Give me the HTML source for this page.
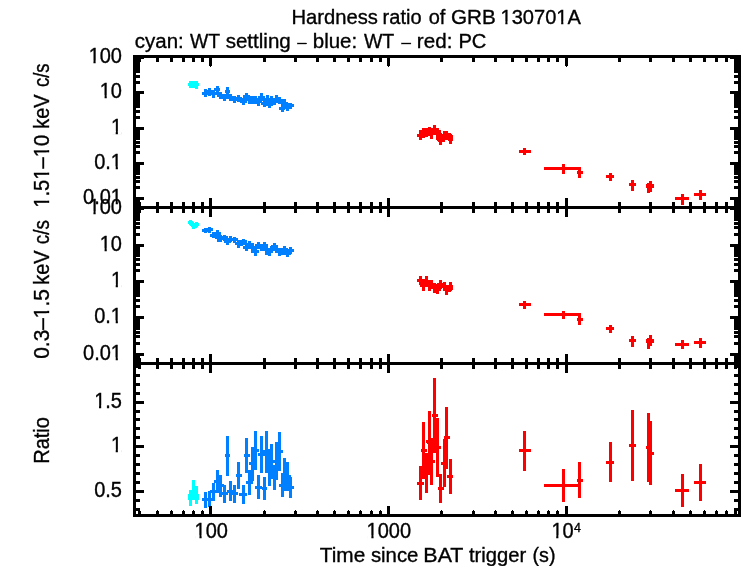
<!DOCTYPE html>
<html><head><meta charset="utf-8"><title>Hardness ratio of GRB 130701A</title>
<style>
html,body{margin:0;padding:0;background:#fff;width:742px;height:566px;overflow:hidden;}
svg{display:block;font-family:"Liberation Sans",sans-serif;}
text{fill:#000;}
</style></head><body>
<svg width="742" height="566" viewBox="0 0 742 566">
<rect width="742" height="566" fill="#fff"/>
<g shape-rendering="crispEdges">
<rect x="189" y="81" width="9" height="7" fill="#00ffff"/>
<rect x="188" y="83" width="11" height="3" fill="#00ffff"/>
<rect x="195" y="88" width="3" height="1" fill="#00ffff"/>
<rect x="204" y="89" width="3" height="8" fill="#0080ff"/>
<rect x="202" y="92" width="6" height="3" fill="#0080ff"/>
<rect x="208" y="88" width="3" height="8" fill="#0080ff"/>
<rect x="206" y="90" width="7" height="3" fill="#0080ff"/>
<rect x="212" y="90" width="3" height="8" fill="#0080ff"/>
<rect x="210" y="92" width="7" height="3" fill="#0080ff"/>
<rect x="216" y="86" width="3" height="8" fill="#0080ff"/>
<rect x="214" y="88" width="6" height="3" fill="#0080ff"/>
<rect x="219" y="92" width="3" height="7" fill="#0080ff"/>
<rect x="217" y="94" width="7" height="3" fill="#0080ff"/>
<rect x="223" y="94" width="3" height="7" fill="#0080ff"/>
<rect x="221" y="96" width="7" height="3" fill="#0080ff"/>
<rect x="226" y="87" width="3" height="9" fill="#0080ff"/>
<rect x="225" y="90" width="5" height="3" fill="#0080ff"/>
<rect x="229" y="94" width="3" height="7" fill="#0080ff"/>
<rect x="227" y="96" width="7" height="3" fill="#0080ff"/>
<rect x="233" y="96" width="3" height="7" fill="#0080ff"/>
<rect x="231" y="98" width="7" height="3" fill="#0080ff"/>
<rect x="237" y="95" width="3" height="7" fill="#0080ff"/>
<rect x="235" y="97" width="7" height="3" fill="#0080ff"/>
<rect x="242" y="98" width="3" height="7" fill="#0080ff"/>
<rect x="240" y="100" width="7" height="3" fill="#0080ff"/>
<rect x="245" y="93" width="3" height="7" fill="#0080ff"/>
<rect x="243" y="95" width="7" height="3" fill="#0080ff"/>
<rect x="248" y="96" width="3" height="8" fill="#0080ff"/>
<rect x="246" y="98" width="7" height="3" fill="#0080ff"/>
<rect x="251" y="96" width="3" height="8" fill="#0080ff"/>
<rect x="249" y="98" width="7" height="3" fill="#0080ff"/>
<rect x="254" y="96" width="3" height="8" fill="#0080ff"/>
<rect x="252" y="98" width="7" height="3" fill="#0080ff"/>
<rect x="257" y="98" width="3" height="8" fill="#0080ff"/>
<rect x="255" y="100" width="7" height="3" fill="#0080ff"/>
<rect x="260" y="93" width="3" height="8" fill="#0080ff"/>
<rect x="258" y="96" width="7" height="3" fill="#0080ff"/>
<rect x="263" y="99" width="3" height="8" fill="#0080ff"/>
<rect x="261" y="102" width="7" height="3" fill="#0080ff"/>
<rect x="266" y="95" width="3" height="9" fill="#0080ff"/>
<rect x="264" y="98" width="7" height="3" fill="#0080ff"/>
<rect x="268" y="101" width="3" height="7" fill="#0080ff"/>
<rect x="266" y="103" width="7" height="3" fill="#0080ff"/>
<rect x="270" y="96" width="3" height="7" fill="#0080ff"/>
<rect x="268" y="98" width="7" height="3" fill="#0080ff"/>
<rect x="273" y="98" width="3" height="7" fill="#0080ff"/>
<rect x="271" y="100" width="7" height="3" fill="#0080ff"/>
<rect x="275" y="95" width="3" height="8" fill="#0080ff"/>
<rect x="273" y="98" width="7" height="3" fill="#0080ff"/>
<rect x="278" y="97" width="3" height="7" fill="#0080ff"/>
<rect x="277" y="99" width="6" height="3" fill="#0080ff"/>
<rect x="281" y="105" width="3" height="7" fill="#0080ff"/>
<rect x="279" y="107" width="6" height="3" fill="#0080ff"/>
<rect x="283" y="99" width="3" height="8" fill="#0080ff"/>
<rect x="281" y="102" width="7" height="3" fill="#0080ff"/>
<rect x="286" y="103" width="3" height="8" fill="#0080ff"/>
<rect x="284" y="106" width="7" height="3" fill="#0080ff"/>
<rect x="289" y="103" width="3" height="6" fill="#0080ff"/>
<rect x="288" y="104" width="6" height="3" fill="#0080ff"/>
<rect x="189" y="220" width="3" height="1" fill="#00ffff"/>
<rect x="188" y="221" width="5" height="1" fill="#00ffff"/>
<rect x="188" y="222" width="6" height="1" fill="#00ffff"/>
<rect x="195" y="222" width="3" height="1" fill="#00ffff"/>
<rect x="188" y="223" width="11" height="1" fill="#00ffff"/>
<rect x="189" y="224" width="10" height="1" fill="#00ffff"/>
<rect x="190" y="225" width="9" height="1" fill="#00ffff"/>
<rect x="191" y="226" width="7" height="1" fill="#00ffff"/>
<rect x="192" y="227" width="5" height="1" fill="#00ffff"/>
<rect x="192" y="228" width="3" height="1" fill="#00ffff"/>
<rect x="204" y="228" width="3" height="5" fill="#0080ff"/>
<rect x="202" y="229" width="6" height="3" fill="#0080ff"/>
<rect x="208" y="227" width="3" height="6" fill="#0080ff"/>
<rect x="207" y="228" width="6" height="3" fill="#0080ff"/>
<rect x="212" y="232" width="3" height="6" fill="#0080ff"/>
<rect x="210" y="234" width="6" height="3" fill="#0080ff"/>
<rect x="216" y="230" width="3" height="6" fill="#0080ff"/>
<rect x="214" y="232" width="7" height="3" fill="#0080ff"/>
<rect x="217" y="233" width="3" height="9" fill="#0080ff"/>
<rect x="215" y="236" width="7" height="3" fill="#0080ff"/>
<rect x="219" y="235" width="3" height="7" fill="#0080ff"/>
<rect x="217" y="237" width="7" height="3" fill="#0080ff"/>
<rect x="223" y="235" width="3" height="6" fill="#0080ff"/>
<rect x="221" y="236" width="7" height="3" fill="#0080ff"/>
<rect x="226" y="238" width="3" height="7" fill="#0080ff"/>
<rect x="224" y="240" width="7" height="3" fill="#0080ff"/>
<rect x="229" y="236" width="3" height="6" fill="#0080ff"/>
<rect x="227" y="238" width="7" height="3" fill="#0080ff"/>
<rect x="233" y="237" width="3" height="6" fill="#0080ff"/>
<rect x="232" y="238" width="6" height="3" fill="#0080ff"/>
<rect x="237" y="240" width="3" height="8" fill="#0080ff"/>
<rect x="235" y="242" width="7" height="3" fill="#0080ff"/>
<rect x="240" y="240" width="3" height="6" fill="#0080ff"/>
<rect x="238" y="242" width="7" height="3" fill="#0080ff"/>
<rect x="242" y="239" width="3" height="6" fill="#0080ff"/>
<rect x="240" y="240" width="7" height="3" fill="#0080ff"/>
<rect x="245" y="243" width="3" height="8" fill="#0080ff"/>
<rect x="243" y="246" width="7" height="3" fill="#0080ff"/>
<rect x="248" y="241" width="3" height="8" fill="#0080ff"/>
<rect x="246" y="244" width="7" height="3" fill="#0080ff"/>
<rect x="251" y="243" width="3" height="10" fill="#0080ff"/>
<rect x="249" y="246" width="7" height="3" fill="#0080ff"/>
<rect x="254" y="247" width="3" height="9" fill="#0080ff"/>
<rect x="253" y="250" width="6" height="3" fill="#0080ff"/>
<rect x="257" y="242" width="3" height="7" fill="#0080ff"/>
<rect x="255" y="244" width="7" height="3" fill="#0080ff"/>
<rect x="260" y="244" width="3" height="7" fill="#0080ff"/>
<rect x="258" y="246" width="7" height="3" fill="#0080ff"/>
<rect x="263" y="242" width="3" height="7" fill="#0080ff"/>
<rect x="261" y="244" width="7" height="3" fill="#0080ff"/>
<rect x="265" y="244" width="3" height="11" fill="#0080ff"/>
<rect x="263" y="248" width="7" height="3" fill="#0080ff"/>
<rect x="268" y="248" width="3" height="8" fill="#0080ff"/>
<rect x="266" y="250" width="7" height="3" fill="#0080ff"/>
<rect x="270" y="246" width="3" height="7" fill="#0080ff"/>
<rect x="268" y="248" width="7" height="3" fill="#0080ff"/>
<rect x="273" y="243" width="3" height="7" fill="#0080ff"/>
<rect x="271" y="245" width="7" height="3" fill="#0080ff"/>
<rect x="275" y="245" width="3" height="8" fill="#0080ff"/>
<rect x="273" y="248" width="7" height="3" fill="#0080ff"/>
<rect x="278" y="248" width="3" height="8" fill="#0080ff"/>
<rect x="276" y="250" width="7" height="3" fill="#0080ff"/>
<rect x="281" y="249" width="3" height="6" fill="#0080ff"/>
<rect x="279" y="250" width="7" height="3" fill="#0080ff"/>
<rect x="283" y="246" width="3" height="8" fill="#0080ff"/>
<rect x="281" y="248" width="7" height="3" fill="#0080ff"/>
<rect x="286" y="249" width="3" height="8" fill="#0080ff"/>
<rect x="284" y="252" width="7" height="3" fill="#0080ff"/>
<rect x="289" y="247" width="3" height="7" fill="#0080ff"/>
<rect x="288" y="249" width="6" height="3" fill="#0080ff"/>
<rect x="189" y="490" width="3" height="16" fill="#00ffff"/>
<rect x="192" y="480" width="3" height="20" fill="#00ffff"/>
<rect x="195" y="486" width="3" height="18" fill="#00ffff"/>
<rect x="188" y="494" width="11" height="6" fill="#00ffff"/>
<rect x="204" y="492" width="3" height="16" fill="#0080ff"/>
<rect x="202" y="498" width="6" height="3" fill="#0080ff"/>
<rect x="208" y="491" width="3" height="16" fill="#0080ff"/>
<rect x="206" y="498" width="7" height="3" fill="#0080ff"/>
<rect x="212" y="483" width="3" height="18" fill="#0080ff"/>
<rect x="210" y="490" width="7" height="3" fill="#0080ff"/>
<rect x="216" y="470" width="3" height="23" fill="#0080ff"/>
<rect x="214" y="480" width="7" height="3" fill="#0080ff"/>
<rect x="219" y="475" width="3" height="22" fill="#0080ff"/>
<rect x="217" y="484" width="7" height="3" fill="#0080ff"/>
<rect x="223" y="485" width="3" height="18" fill="#0080ff"/>
<rect x="221" y="492" width="7" height="3" fill="#0080ff"/>
<rect x="226" y="436" width="3" height="40" fill="#0080ff"/>
<rect x="225" y="454" width="5" height="3" fill="#0080ff"/>
<rect x="229" y="481" width="3" height="20" fill="#0080ff"/>
<rect x="227" y="490" width="7" height="3" fill="#0080ff"/>
<rect x="233" y="485" width="3" height="18" fill="#0080ff"/>
<rect x="231" y="492" width="7" height="3" fill="#0080ff"/>
<rect x="237" y="462" width="3" height="27" fill="#0080ff"/>
<rect x="236" y="474" width="6" height="3" fill="#0080ff"/>
<rect x="242" y="485" width="3" height="19" fill="#0080ff"/>
<rect x="239" y="493" width="8" height="3" fill="#0080ff"/>
<rect x="245" y="438" width="3" height="35" fill="#0080ff"/>
<rect x="244" y="454" width="6" height="3" fill="#0080ff"/>
<rect x="248" y="470" width="3" height="25" fill="#0080ff"/>
<rect x="246" y="481" width="7" height="3" fill="#0080ff"/>
<rect x="251" y="447" width="3" height="34" fill="#0080ff"/>
<rect x="249" y="462" width="7" height="3" fill="#0080ff"/>
<rect x="254" y="431" width="3" height="39" fill="#0080ff"/>
<rect x="252" y="449" width="7" height="3" fill="#0080ff"/>
<rect x="257" y="475" width="3" height="24" fill="#0080ff"/>
<rect x="255" y="486" width="7" height="3" fill="#0080ff"/>
<rect x="260" y="436" width="3" height="37" fill="#0080ff"/>
<rect x="258" y="453" width="7" height="3" fill="#0080ff"/>
<rect x="263" y="477" width="3" height="23" fill="#0080ff"/>
<rect x="262" y="487" width="5" height="3" fill="#0080ff"/>
<rect x="265" y="431" width="3" height="42" fill="#0080ff"/>
<rect x="263" y="450" width="7" height="3" fill="#0080ff"/>
<rect x="268" y="449" width="3" height="37" fill="#0080ff"/>
<rect x="266" y="466" width="7" height="3" fill="#0080ff"/>
<rect x="270" y="444" width="3" height="35" fill="#0080ff"/>
<rect x="268" y="460" width="7" height="3" fill="#0080ff"/>
<rect x="273" y="465" width="3" height="25" fill="#0080ff"/>
<rect x="271" y="476" width="7" height="3" fill="#0080ff"/>
<rect x="275" y="442" width="3" height="38" fill="#0080ff"/>
<rect x="273" y="460" width="7" height="3" fill="#0080ff"/>
<rect x="278" y="432" width="3" height="39" fill="#0080ff"/>
<rect x="276" y="450" width="7" height="3" fill="#0080ff"/>
<rect x="281" y="473" width="3" height="24" fill="#0080ff"/>
<rect x="279" y="484" width="6" height="3" fill="#0080ff"/>
<rect x="283" y="458" width="3" height="33" fill="#0080ff"/>
<rect x="281" y="473" width="7" height="3" fill="#0080ff"/>
<rect x="286" y="462" width="3" height="29" fill="#0080ff"/>
<rect x="284" y="475" width="7" height="3" fill="#0080ff"/>
<rect x="289" y="477" width="3" height="21" fill="#0080ff"/>
<rect x="288" y="486" width="6" height="3" fill="#0080ff"/>
<rect x="419" y="130" width="3" height="10" fill="#ff0000"/>
<rect x="417" y="134" width="6" height="3" fill="#ff0000"/>
<rect x="422" y="128" width="3" height="10" fill="#ff0000"/>
<rect x="420" y="132" width="7" height="3" fill="#ff0000"/>
<rect x="425" y="128" width="3" height="9" fill="#ff0000"/>
<rect x="423" y="131" width="7" height="3" fill="#ff0000"/>
<rect x="428" y="127" width="3" height="9" fill="#ff0000"/>
<rect x="426" y="130" width="7" height="3" fill="#ff0000"/>
<rect x="430" y="129" width="3" height="10" fill="#ff0000"/>
<rect x="428" y="132" width="7" height="3" fill="#ff0000"/>
<rect x="433" y="125" width="3" height="10" fill="#ff0000"/>
<rect x="431" y="128" width="7" height="3" fill="#ff0000"/>
<rect x="436" y="128" width="3" height="12" fill="#ff0000"/>
<rect x="434" y="132" width="7" height="3" fill="#ff0000"/>
<rect x="438" y="130" width="3" height="12" fill="#ff0000"/>
<rect x="436" y="134" width="7" height="3" fill="#ff0000"/>
<rect x="439" y="133" width="3" height="12" fill="#ff0000"/>
<rect x="437" y="138" width="7" height="3" fill="#ff0000"/>
<rect x="442" y="134" width="3" height="8" fill="#ff0000"/>
<rect x="440" y="136" width="7" height="3" fill="#ff0000"/>
<rect x="443" y="131" width="3" height="9" fill="#ff0000"/>
<rect x="441" y="134" width="7" height="3" fill="#ff0000"/>
<rect x="445" y="131" width="3" height="9" fill="#ff0000"/>
<rect x="443" y="134" width="7" height="3" fill="#ff0000"/>
<rect x="448" y="133" width="3" height="7" fill="#ff0000"/>
<rect x="446" y="135" width="7" height="3" fill="#ff0000"/>
<rect x="449" y="134" width="3" height="10" fill="#ff0000"/>
<rect x="448" y="138" width="5" height="3" fill="#ff0000"/>
<rect x="419" y="276" width="3" height="9" fill="#ff0000"/>
<rect x="417" y="279" width="6" height="3" fill="#ff0000"/>
<rect x="422" y="279" width="3" height="12" fill="#ff0000"/>
<rect x="420" y="284" width="7" height="3" fill="#ff0000"/>
<rect x="425" y="276" width="3" height="11" fill="#ff0000"/>
<rect x="423" y="280" width="7" height="3" fill="#ff0000"/>
<rect x="428" y="280" width="3" height="11" fill="#ff0000"/>
<rect x="426" y="284" width="7" height="3" fill="#ff0000"/>
<rect x="430" y="280" width="3" height="9" fill="#ff0000"/>
<rect x="428" y="283" width="7" height="3" fill="#ff0000"/>
<rect x="433" y="283" width="3" height="10" fill="#ff0000"/>
<rect x="431" y="286" width="7" height="3" fill="#ff0000"/>
<rect x="436" y="284" width="3" height="10" fill="#ff0000"/>
<rect x="434" y="288" width="7" height="3" fill="#ff0000"/>
<rect x="439" y="280" width="3" height="9" fill="#ff0000"/>
<rect x="437" y="283" width="7" height="3" fill="#ff0000"/>
<rect x="443" y="282" width="3" height="9" fill="#ff0000"/>
<rect x="441" y="285" width="7" height="3" fill="#ff0000"/>
<rect x="445" y="285" width="3" height="10" fill="#ff0000"/>
<rect x="443" y="288" width="7" height="3" fill="#ff0000"/>
<rect x="448" y="285" width="3" height="7" fill="#ff0000"/>
<rect x="446" y="287" width="7" height="3" fill="#ff0000"/>
<rect x="449" y="282" width="3" height="9" fill="#ff0000"/>
<rect x="448" y="285" width="5" height="3" fill="#ff0000"/>
<rect x="419" y="466" width="3" height="34" fill="#ff0000"/>
<rect x="417" y="482" width="7" height="3" fill="#ff0000"/>
<rect x="422" y="422" width="3" height="57" fill="#ff0000"/>
<rect x="421" y="449" width="6" height="3" fill="#ff0000"/>
<rect x="425" y="453" width="3" height="40" fill="#ff0000"/>
<rect x="423" y="472" width="7" height="3" fill="#ff0000"/>
<rect x="428" y="411" width="3" height="62" fill="#ff0000"/>
<rect x="426" y="440" width="7" height="3" fill="#ff0000"/>
<rect x="430" y="438" width="3" height="47" fill="#ff0000"/>
<rect x="428" y="460" width="7" height="3" fill="#ff0000"/>
<rect x="433" y="378" width="3" height="74" fill="#ff0000"/>
<rect x="432" y="414" width="6" height="3" fill="#ff0000"/>
<rect x="436" y="418" width="3" height="59" fill="#ff0000"/>
<rect x="434" y="446" width="7" height="3" fill="#ff0000"/>
<rect x="439" y="474" width="3" height="29" fill="#ff0000"/>
<rect x="438" y="487" width="6" height="3" fill="#ff0000"/>
<rect x="443" y="439" width="3" height="48" fill="#ff0000"/>
<rect x="441" y="462" width="6" height="3" fill="#ff0000"/>
<rect x="445" y="407" width="3" height="62" fill="#ff0000"/>
<rect x="444" y="436" width="6" height="3" fill="#ff0000"/>
<rect x="449" y="459" width="3" height="35" fill="#ff0000"/>
<rect x="447" y="475" width="6" height="3" fill="#ff0000"/>
<rect x="425" y="453" width="8" height="20" fill="#ff0000"/>
<rect x="428" y="440" width="11" height="13" fill="#ff0000"/>
<rect x="427" y="441" width="6" height="3" fill="#ff0000"/>
<rect x="523" y="148" width="3" height="7" fill="#ff0000"/>
<rect x="519" y="150" width="12" height="3" fill="#ff0000"/>
<rect x="562" y="164" width="3" height="10" fill="#ff0000"/>
<rect x="544" y="167" width="37" height="3" fill="#ff0000"/>
<rect x="578" y="167" width="3" height="11" fill="#ff0000"/>
<rect x="577" y="171" width="6" height="3" fill="#ff0000"/>
<rect x="609" y="173" width="3" height="8" fill="#ff0000"/>
<rect x="606" y="175" width="8" height="3" fill="#ff0000"/>
<rect x="631" y="180" width="3" height="11" fill="#ff0000"/>
<rect x="629" y="183" width="7" height="3" fill="#ff0000"/>
<rect x="647" y="183" width="3" height="10" fill="#ff0000"/>
<rect x="646" y="185" width="8" height="3" fill="#ff0000"/>
<rect x="649" y="181" width="3" height="11" fill="#ff0000"/>
<rect x="646" y="184" width="8" height="3" fill="#ff0000"/>
<rect x="681" y="194" width="3" height="11" fill="#ff0000"/>
<rect x="675" y="197" width="14" height="3" fill="#ff0000"/>
<rect x="699" y="190" width="3" height="10" fill="#ff0000"/>
<rect x="694" y="193" width="12" height="3" fill="#ff0000"/>
<rect x="523" y="301" width="3" height="8" fill="#ff0000"/>
<rect x="519" y="303" width="12" height="3" fill="#ff0000"/>
<rect x="562" y="311" width="3" height="8" fill="#ff0000"/>
<rect x="544" y="313" width="37" height="3" fill="#ff0000"/>
<rect x="578" y="313" width="3" height="12" fill="#ff0000"/>
<rect x="577" y="318" width="6" height="3" fill="#ff0000"/>
<rect x="609" y="325" width="3" height="8" fill="#ff0000"/>
<rect x="606" y="327" width="8" height="3" fill="#ff0000"/>
<rect x="631" y="336" width="3" height="11" fill="#ff0000"/>
<rect x="629" y="339" width="7" height="3" fill="#ff0000"/>
<rect x="647" y="338" width="3" height="11" fill="#ff0000"/>
<rect x="646" y="340" width="8" height="3" fill="#ff0000"/>
<rect x="649" y="335" width="3" height="11" fill="#ff0000"/>
<rect x="646" y="339" width="8" height="3" fill="#ff0000"/>
<rect x="681" y="340" width="3" height="9" fill="#ff0000"/>
<rect x="675" y="343" width="14" height="3" fill="#ff0000"/>
<rect x="699" y="338" width="3" height="10" fill="#ff0000"/>
<rect x="694" y="341" width="12" height="3" fill="#ff0000"/>
<rect x="523" y="431" width="3" height="40" fill="#ff0000"/>
<rect x="519" y="449" width="12" height="3" fill="#ff0000"/>
<rect x="562" y="469" width="3" height="33" fill="#ff0000"/>
<rect x="544" y="484" width="35" height="3" fill="#ff0000"/>
<rect x="578" y="462" width="3" height="36" fill="#ff0000"/>
<rect x="577" y="479" width="6" height="3" fill="#ff0000"/>
<rect x="609" y="442" width="3" height="40" fill="#ff0000"/>
<rect x="606" y="461" width="8" height="3" fill="#ff0000"/>
<rect x="631" y="410" width="3" height="71" fill="#ff0000"/>
<rect x="629" y="444" width="7" height="3" fill="#ff0000"/>
<rect x="647" y="413" width="3" height="69" fill="#ff0000"/>
<rect x="646" y="446" width="5" height="3" fill="#ff0000"/>
<rect x="649" y="421" width="3" height="64" fill="#ff0000"/>
<rect x="648" y="452" width="6" height="3" fill="#ff0000"/>
<rect x="681" y="474" width="3" height="33" fill="#ff0000"/>
<rect x="675" y="489" width="14" height="3" fill="#ff0000"/>
<rect x="699" y="464" width="3" height="37" fill="#ff0000"/>
<rect x="694" y="481" width="12" height="3" fill="#ff0000"/>
<rect x="133" y="55" width="608" height="3" fill="#000"/>
<rect x="133" y="514" width="608" height="3" fill="#000"/>
<rect x="133" y="55" width="3" height="462" fill="#000"/>
<rect x="738" y="55" width="3" height="462" fill="#000"/>
<rect x="133" y="206" width="608" height="3" fill="#000"/>
<rect x="133" y="362" width="608" height="3" fill="#000"/>
<rect x="138" y="58" width="3" height="4" fill="#000"/>
<rect x="138" y="202" width="3" height="11" fill="#000"/>
<rect x="138" y="358" width="3" height="11" fill="#000"/>
<rect x="138" y="511" width="3" height="3" fill="#000"/>
<rect x="139" y="510" width="1" height="1" fill="#000"/>
<rect x="156" y="58" width="3" height="4" fill="#000"/>
<rect x="156" y="202" width="3" height="11" fill="#000"/>
<rect x="156" y="358" width="3" height="11" fill="#000"/>
<rect x="156" y="511" width="3" height="3" fill="#000"/>
<rect x="157" y="510" width="1" height="1" fill="#000"/>
<rect x="170" y="58" width="3" height="4" fill="#000"/>
<rect x="170" y="202" width="3" height="11" fill="#000"/>
<rect x="170" y="358" width="3" height="11" fill="#000"/>
<rect x="170" y="511" width="3" height="3" fill="#000"/>
<rect x="171" y="510" width="1" height="1" fill="#000"/>
<rect x="182" y="58" width="3" height="4" fill="#000"/>
<rect x="182" y="202" width="3" height="11" fill="#000"/>
<rect x="182" y="358" width="3" height="11" fill="#000"/>
<rect x="182" y="511" width="3" height="3" fill="#000"/>
<rect x="183" y="510" width="1" height="1" fill="#000"/>
<rect x="192" y="58" width="3" height="4" fill="#000"/>
<rect x="192" y="202" width="3" height="11" fill="#000"/>
<rect x="192" y="358" width="3" height="11" fill="#000"/>
<rect x="192" y="511" width="3" height="3" fill="#000"/>
<rect x="193" y="510" width="1" height="1" fill="#000"/>
<rect x="201" y="58" width="3" height="4" fill="#000"/>
<rect x="201" y="202" width="3" height="11" fill="#000"/>
<rect x="201" y="358" width="3" height="11" fill="#000"/>
<rect x="201" y="511" width="3" height="3" fill="#000"/>
<rect x="202" y="510" width="1" height="1" fill="#000"/>
<rect x="209" y="58" width="3" height="8" fill="#000"/>
<rect x="210" y="66" width="1" height="1" fill="#000"/>
<rect x="209" y="198" width="3" height="19" fill="#000"/>
<rect x="209" y="354" width="3" height="19" fill="#000"/>
<rect x="209" y="506" width="3" height="8" fill="#000"/>
<rect x="263" y="58" width="3" height="4" fill="#000"/>
<rect x="263" y="202" width="3" height="11" fill="#000"/>
<rect x="263" y="358" width="3" height="11" fill="#000"/>
<rect x="263" y="511" width="3" height="3" fill="#000"/>
<rect x="264" y="510" width="1" height="1" fill="#000"/>
<rect x="294" y="58" width="3" height="4" fill="#000"/>
<rect x="294" y="202" width="3" height="11" fill="#000"/>
<rect x="294" y="358" width="3" height="11" fill="#000"/>
<rect x="294" y="511" width="3" height="3" fill="#000"/>
<rect x="295" y="510" width="1" height="1" fill="#000"/>
<rect x="316" y="58" width="3" height="4" fill="#000"/>
<rect x="316" y="202" width="3" height="11" fill="#000"/>
<rect x="316" y="358" width="3" height="11" fill="#000"/>
<rect x="316" y="511" width="3" height="3" fill="#000"/>
<rect x="317" y="510" width="1" height="1" fill="#000"/>
<rect x="333" y="58" width="3" height="4" fill="#000"/>
<rect x="333" y="202" width="3" height="11" fill="#000"/>
<rect x="333" y="358" width="3" height="11" fill="#000"/>
<rect x="333" y="511" width="3" height="3" fill="#000"/>
<rect x="334" y="510" width="1" height="1" fill="#000"/>
<rect x="347" y="58" width="3" height="4" fill="#000"/>
<rect x="347" y="202" width="3" height="11" fill="#000"/>
<rect x="347" y="358" width="3" height="11" fill="#000"/>
<rect x="347" y="511" width="3" height="3" fill="#000"/>
<rect x="348" y="510" width="1" height="1" fill="#000"/>
<rect x="359" y="58" width="3" height="4" fill="#000"/>
<rect x="359" y="202" width="3" height="11" fill="#000"/>
<rect x="359" y="358" width="3" height="11" fill="#000"/>
<rect x="359" y="511" width="3" height="3" fill="#000"/>
<rect x="360" y="510" width="1" height="1" fill="#000"/>
<rect x="370" y="58" width="3" height="4" fill="#000"/>
<rect x="370" y="202" width="3" height="11" fill="#000"/>
<rect x="370" y="358" width="3" height="11" fill="#000"/>
<rect x="370" y="511" width="3" height="3" fill="#000"/>
<rect x="371" y="510" width="1" height="1" fill="#000"/>
<rect x="379" y="58" width="3" height="4" fill="#000"/>
<rect x="379" y="202" width="3" height="11" fill="#000"/>
<rect x="379" y="358" width="3" height="11" fill="#000"/>
<rect x="379" y="511" width="3" height="3" fill="#000"/>
<rect x="380" y="510" width="1" height="1" fill="#000"/>
<rect x="387" y="58" width="3" height="8" fill="#000"/>
<rect x="388" y="66" width="1" height="1" fill="#000"/>
<rect x="387" y="198" width="3" height="19" fill="#000"/>
<rect x="387" y="354" width="3" height="19" fill="#000"/>
<rect x="387" y="506" width="3" height="8" fill="#000"/>
<rect x="440" y="58" width="3" height="4" fill="#000"/>
<rect x="440" y="202" width="3" height="11" fill="#000"/>
<rect x="440" y="358" width="3" height="11" fill="#000"/>
<rect x="440" y="511" width="3" height="3" fill="#000"/>
<rect x="441" y="510" width="1" height="1" fill="#000"/>
<rect x="472" y="58" width="3" height="4" fill="#000"/>
<rect x="472" y="202" width="3" height="11" fill="#000"/>
<rect x="472" y="358" width="3" height="11" fill="#000"/>
<rect x="472" y="511" width="3" height="3" fill="#000"/>
<rect x="473" y="510" width="1" height="1" fill="#000"/>
<rect x="494" y="58" width="3" height="4" fill="#000"/>
<rect x="494" y="202" width="3" height="11" fill="#000"/>
<rect x="494" y="358" width="3" height="11" fill="#000"/>
<rect x="494" y="511" width="3" height="3" fill="#000"/>
<rect x="495" y="510" width="1" height="1" fill="#000"/>
<rect x="511" y="58" width="3" height="4" fill="#000"/>
<rect x="511" y="202" width="3" height="11" fill="#000"/>
<rect x="511" y="358" width="3" height="11" fill="#000"/>
<rect x="511" y="511" width="3" height="3" fill="#000"/>
<rect x="512" y="510" width="1" height="1" fill="#000"/>
<rect x="525" y="58" width="3" height="4" fill="#000"/>
<rect x="525" y="202" width="3" height="11" fill="#000"/>
<rect x="525" y="358" width="3" height="11" fill="#000"/>
<rect x="525" y="511" width="3" height="3" fill="#000"/>
<rect x="526" y="510" width="1" height="1" fill="#000"/>
<rect x="537" y="58" width="3" height="4" fill="#000"/>
<rect x="537" y="202" width="3" height="11" fill="#000"/>
<rect x="537" y="358" width="3" height="11" fill="#000"/>
<rect x="537" y="511" width="3" height="3" fill="#000"/>
<rect x="538" y="510" width="1" height="1" fill="#000"/>
<rect x="547" y="58" width="3" height="4" fill="#000"/>
<rect x="547" y="202" width="3" height="11" fill="#000"/>
<rect x="547" y="358" width="3" height="11" fill="#000"/>
<rect x="547" y="511" width="3" height="3" fill="#000"/>
<rect x="548" y="510" width="1" height="1" fill="#000"/>
<rect x="556" y="58" width="3" height="4" fill="#000"/>
<rect x="556" y="202" width="3" height="11" fill="#000"/>
<rect x="556" y="358" width="3" height="11" fill="#000"/>
<rect x="556" y="511" width="3" height="3" fill="#000"/>
<rect x="557" y="510" width="1" height="1" fill="#000"/>
<rect x="565" y="58" width="3" height="8" fill="#000"/>
<rect x="566" y="66" width="1" height="1" fill="#000"/>
<rect x="565" y="198" width="3" height="19" fill="#000"/>
<rect x="565" y="354" width="3" height="19" fill="#000"/>
<rect x="565" y="506" width="3" height="8" fill="#000"/>
<rect x="618" y="58" width="3" height="4" fill="#000"/>
<rect x="618" y="202" width="3" height="11" fill="#000"/>
<rect x="618" y="358" width="3" height="11" fill="#000"/>
<rect x="618" y="511" width="3" height="3" fill="#000"/>
<rect x="619" y="510" width="1" height="1" fill="#000"/>
<rect x="649" y="58" width="3" height="4" fill="#000"/>
<rect x="649" y="202" width="3" height="11" fill="#000"/>
<rect x="649" y="358" width="3" height="11" fill="#000"/>
<rect x="649" y="511" width="3" height="3" fill="#000"/>
<rect x="650" y="510" width="1" height="1" fill="#000"/>
<rect x="672" y="58" width="3" height="4" fill="#000"/>
<rect x="672" y="202" width="3" height="11" fill="#000"/>
<rect x="672" y="358" width="3" height="11" fill="#000"/>
<rect x="672" y="511" width="3" height="3" fill="#000"/>
<rect x="673" y="510" width="1" height="1" fill="#000"/>
<rect x="689" y="58" width="3" height="4" fill="#000"/>
<rect x="689" y="202" width="3" height="11" fill="#000"/>
<rect x="689" y="358" width="3" height="11" fill="#000"/>
<rect x="689" y="511" width="3" height="3" fill="#000"/>
<rect x="690" y="510" width="1" height="1" fill="#000"/>
<rect x="703" y="58" width="3" height="4" fill="#000"/>
<rect x="703" y="202" width="3" height="11" fill="#000"/>
<rect x="703" y="358" width="3" height="11" fill="#000"/>
<rect x="703" y="511" width="3" height="3" fill="#000"/>
<rect x="704" y="510" width="1" height="1" fill="#000"/>
<rect x="715" y="58" width="3" height="4" fill="#000"/>
<rect x="715" y="202" width="3" height="11" fill="#000"/>
<rect x="715" y="358" width="3" height="11" fill="#000"/>
<rect x="715" y="511" width="3" height="3" fill="#000"/>
<rect x="716" y="510" width="1" height="1" fill="#000"/>
<rect x="725" y="58" width="3" height="4" fill="#000"/>
<rect x="725" y="202" width="3" height="11" fill="#000"/>
<rect x="725" y="358" width="3" height="11" fill="#000"/>
<rect x="725" y="511" width="3" height="3" fill="#000"/>
<rect x="726" y="510" width="1" height="1" fill="#000"/>
<rect x="734" y="58" width="3" height="4" fill="#000"/>
<rect x="734" y="202" width="3" height="11" fill="#000"/>
<rect x="734" y="358" width="3" height="11" fill="#000"/>
<rect x="734" y="511" width="3" height="3" fill="#000"/>
<rect x="735" y="510" width="1" height="1" fill="#000"/>
<rect x="136" y="205" width="4" height="3" fill="#000"/>
<rect x="734" y="205" width="4" height="3" fill="#000"/>
<rect x="136" y="202" width="4" height="3" fill="#000"/>
<rect x="734" y="202" width="4" height="3" fill="#000"/>
<rect x="136" y="200" width="4" height="3" fill="#000"/>
<rect x="734" y="200" width="4" height="3" fill="#000"/>
<rect x="136" y="198" width="4" height="3" fill="#000"/>
<rect x="734" y="198" width="4" height="3" fill="#000"/>
<rect x="136" y="197" width="8" height="3" fill="#000"/>
<rect x="730" y="197" width="8" height="3" fill="#000"/>
<rect x="136" y="186" width="4" height="3" fill="#000"/>
<rect x="734" y="186" width="4" height="3" fill="#000"/>
<rect x="136" y="180" width="4" height="3" fill="#000"/>
<rect x="734" y="180" width="4" height="3" fill="#000"/>
<rect x="136" y="176" width="4" height="3" fill="#000"/>
<rect x="734" y="176" width="4" height="3" fill="#000"/>
<rect x="136" y="172" width="4" height="3" fill="#000"/>
<rect x="734" y="172" width="4" height="3" fill="#000"/>
<rect x="136" y="169" width="4" height="3" fill="#000"/>
<rect x="734" y="169" width="4" height="3" fill="#000"/>
<rect x="136" y="167" width="4" height="3" fill="#000"/>
<rect x="734" y="167" width="4" height="3" fill="#000"/>
<rect x="136" y="165" width="4" height="3" fill="#000"/>
<rect x="734" y="165" width="4" height="3" fill="#000"/>
<rect x="136" y="163" width="4" height="3" fill="#000"/>
<rect x="734" y="163" width="4" height="3" fill="#000"/>
<rect x="136" y="162" width="8" height="3" fill="#000"/>
<rect x="730" y="162" width="8" height="3" fill="#000"/>
<rect x="136" y="151" width="4" height="3" fill="#000"/>
<rect x="734" y="151" width="4" height="3" fill="#000"/>
<rect x="136" y="145" width="4" height="3" fill="#000"/>
<rect x="734" y="145" width="4" height="3" fill="#000"/>
<rect x="136" y="141" width="4" height="3" fill="#000"/>
<rect x="734" y="141" width="4" height="3" fill="#000"/>
<rect x="136" y="137" width="4" height="3" fill="#000"/>
<rect x="734" y="137" width="4" height="3" fill="#000"/>
<rect x="136" y="134" width="4" height="3" fill="#000"/>
<rect x="734" y="134" width="4" height="3" fill="#000"/>
<rect x="136" y="132" width="4" height="3" fill="#000"/>
<rect x="734" y="132" width="4" height="3" fill="#000"/>
<rect x="136" y="130" width="4" height="3" fill="#000"/>
<rect x="734" y="130" width="4" height="3" fill="#000"/>
<rect x="136" y="128" width="4" height="3" fill="#000"/>
<rect x="734" y="128" width="4" height="3" fill="#000"/>
<rect x="136" y="127" width="8" height="3" fill="#000"/>
<rect x="730" y="127" width="8" height="3" fill="#000"/>
<rect x="136" y="116" width="4" height="3" fill="#000"/>
<rect x="734" y="116" width="4" height="3" fill="#000"/>
<rect x="136" y="110" width="4" height="3" fill="#000"/>
<rect x="734" y="110" width="4" height="3" fill="#000"/>
<rect x="136" y="105" width="4" height="3" fill="#000"/>
<rect x="734" y="105" width="4" height="3" fill="#000"/>
<rect x="136" y="102" width="4" height="3" fill="#000"/>
<rect x="734" y="102" width="4" height="3" fill="#000"/>
<rect x="136" y="99" width="4" height="3" fill="#000"/>
<rect x="734" y="99" width="4" height="3" fill="#000"/>
<rect x="136" y="97" width="4" height="3" fill="#000"/>
<rect x="734" y="97" width="4" height="3" fill="#000"/>
<rect x="136" y="95" width="4" height="3" fill="#000"/>
<rect x="734" y="95" width="4" height="3" fill="#000"/>
<rect x="136" y="93" width="4" height="3" fill="#000"/>
<rect x="734" y="93" width="4" height="3" fill="#000"/>
<rect x="136" y="91" width="8" height="3" fill="#000"/>
<rect x="730" y="91" width="8" height="3" fill="#000"/>
<rect x="136" y="81" width="4" height="3" fill="#000"/>
<rect x="734" y="81" width="4" height="3" fill="#000"/>
<rect x="136" y="75" width="4" height="3" fill="#000"/>
<rect x="734" y="75" width="4" height="3" fill="#000"/>
<rect x="136" y="70" width="4" height="3" fill="#000"/>
<rect x="734" y="70" width="4" height="3" fill="#000"/>
<rect x="136" y="67" width="4" height="3" fill="#000"/>
<rect x="734" y="67" width="4" height="3" fill="#000"/>
<rect x="136" y="64" width="4" height="3" fill="#000"/>
<rect x="734" y="64" width="4" height="3" fill="#000"/>
<rect x="136" y="62" width="4" height="3" fill="#000"/>
<rect x="734" y="62" width="4" height="3" fill="#000"/>
<rect x="136" y="60" width="4" height="3" fill="#000"/>
<rect x="734" y="60" width="4" height="3" fill="#000"/>
<rect x="136" y="58" width="4" height="3" fill="#000"/>
<rect x="734" y="58" width="4" height="3" fill="#000"/>
<rect x="136" y="56" width="8" height="3" fill="#000"/>
<rect x="730" y="56" width="8" height="3" fill="#000"/>
<rect x="136" y="361" width="4" height="3" fill="#000"/>
<rect x="734" y="361" width="4" height="3" fill="#000"/>
<rect x="136" y="358" width="4" height="3" fill="#000"/>
<rect x="734" y="358" width="4" height="3" fill="#000"/>
<rect x="136" y="356" width="4" height="3" fill="#000"/>
<rect x="734" y="356" width="4" height="3" fill="#000"/>
<rect x="136" y="354" width="4" height="3" fill="#000"/>
<rect x="734" y="354" width="4" height="3" fill="#000"/>
<rect x="136" y="353" width="8" height="3" fill="#000"/>
<rect x="730" y="353" width="8" height="3" fill="#000"/>
<rect x="136" y="342" width="4" height="3" fill="#000"/>
<rect x="734" y="342" width="4" height="3" fill="#000"/>
<rect x="136" y="335" width="4" height="3" fill="#000"/>
<rect x="734" y="335" width="4" height="3" fill="#000"/>
<rect x="136" y="331" width="4" height="3" fill="#000"/>
<rect x="734" y="331" width="4" height="3" fill="#000"/>
<rect x="136" y="327" width="4" height="3" fill="#000"/>
<rect x="734" y="327" width="4" height="3" fill="#000"/>
<rect x="136" y="324" width="4" height="3" fill="#000"/>
<rect x="734" y="324" width="4" height="3" fill="#000"/>
<rect x="136" y="322" width="4" height="3" fill="#000"/>
<rect x="734" y="322" width="4" height="3" fill="#000"/>
<rect x="136" y="320" width="4" height="3" fill="#000"/>
<rect x="734" y="320" width="4" height="3" fill="#000"/>
<rect x="136" y="318" width="4" height="3" fill="#000"/>
<rect x="734" y="318" width="4" height="3" fill="#000"/>
<rect x="136" y="316" width="8" height="3" fill="#000"/>
<rect x="730" y="316" width="8" height="3" fill="#000"/>
<rect x="136" y="305" width="4" height="3" fill="#000"/>
<rect x="734" y="305" width="4" height="3" fill="#000"/>
<rect x="136" y="299" width="4" height="3" fill="#000"/>
<rect x="734" y="299" width="4" height="3" fill="#000"/>
<rect x="136" y="294" width="4" height="3" fill="#000"/>
<rect x="734" y="294" width="4" height="3" fill="#000"/>
<rect x="136" y="291" width="4" height="3" fill="#000"/>
<rect x="734" y="291" width="4" height="3" fill="#000"/>
<rect x="136" y="288" width="4" height="3" fill="#000"/>
<rect x="734" y="288" width="4" height="3" fill="#000"/>
<rect x="136" y="286" width="4" height="3" fill="#000"/>
<rect x="734" y="286" width="4" height="3" fill="#000"/>
<rect x="136" y="283" width="4" height="3" fill="#000"/>
<rect x="734" y="283" width="4" height="3" fill="#000"/>
<rect x="136" y="282" width="4" height="3" fill="#000"/>
<rect x="734" y="282" width="4" height="3" fill="#000"/>
<rect x="136" y="280" width="8" height="3" fill="#000"/>
<rect x="730" y="280" width="8" height="3" fill="#000"/>
<rect x="136" y="269" width="4" height="3" fill="#000"/>
<rect x="734" y="269" width="4" height="3" fill="#000"/>
<rect x="136" y="263" width="4" height="3" fill="#000"/>
<rect x="734" y="263" width="4" height="3" fill="#000"/>
<rect x="136" y="258" width="4" height="3" fill="#000"/>
<rect x="734" y="258" width="4" height="3" fill="#000"/>
<rect x="136" y="254" width="4" height="3" fill="#000"/>
<rect x="734" y="254" width="4" height="3" fill="#000"/>
<rect x="136" y="252" width="4" height="3" fill="#000"/>
<rect x="734" y="252" width="4" height="3" fill="#000"/>
<rect x="136" y="249" width="4" height="3" fill="#000"/>
<rect x="734" y="249" width="4" height="3" fill="#000"/>
<rect x="136" y="247" width="4" height="3" fill="#000"/>
<rect x="734" y="247" width="4" height="3" fill="#000"/>
<rect x="136" y="245" width="4" height="3" fill="#000"/>
<rect x="734" y="245" width="4" height="3" fill="#000"/>
<rect x="136" y="244" width="8" height="3" fill="#000"/>
<rect x="730" y="244" width="8" height="3" fill="#000"/>
<rect x="136" y="233" width="4" height="3" fill="#000"/>
<rect x="734" y="233" width="4" height="3" fill="#000"/>
<rect x="136" y="226" width="4" height="3" fill="#000"/>
<rect x="734" y="226" width="4" height="3" fill="#000"/>
<rect x="136" y="222" width="4" height="3" fill="#000"/>
<rect x="734" y="222" width="4" height="3" fill="#000"/>
<rect x="136" y="218" width="4" height="3" fill="#000"/>
<rect x="734" y="218" width="4" height="3" fill="#000"/>
<rect x="136" y="215" width="4" height="3" fill="#000"/>
<rect x="734" y="215" width="4" height="3" fill="#000"/>
<rect x="136" y="213" width="4" height="3" fill="#000"/>
<rect x="734" y="213" width="4" height="3" fill="#000"/>
<rect x="136" y="211" width="4" height="3" fill="#000"/>
<rect x="734" y="211" width="4" height="3" fill="#000"/>
<rect x="136" y="209" width="4" height="3" fill="#000"/>
<rect x="734" y="209" width="4" height="3" fill="#000"/>
<rect x="136" y="207" width="8" height="3" fill="#000"/>
<rect x="730" y="207" width="8" height="3" fill="#000"/>
<rect x="136" y="365" width="4" height="3" fill="#000"/>
<rect x="734" y="365" width="4" height="3" fill="#000"/>
<rect x="136" y="374" width="4" height="3" fill="#000"/>
<rect x="734" y="374" width="4" height="3" fill="#000"/>
<rect x="136" y="383" width="4" height="3" fill="#000"/>
<rect x="734" y="383" width="4" height="3" fill="#000"/>
<rect x="136" y="392" width="4" height="3" fill="#000"/>
<rect x="734" y="392" width="4" height="3" fill="#000"/>
<rect x="136" y="401" width="8" height="3" fill="#000"/>
<rect x="730" y="401" width="8" height="3" fill="#000"/>
<rect x="136" y="410" width="4" height="3" fill="#000"/>
<rect x="734" y="410" width="4" height="3" fill="#000"/>
<rect x="136" y="418" width="4" height="3" fill="#000"/>
<rect x="734" y="418" width="4" height="3" fill="#000"/>
<rect x="136" y="427" width="4" height="3" fill="#000"/>
<rect x="734" y="427" width="4" height="3" fill="#000"/>
<rect x="136" y="436" width="4" height="3" fill="#000"/>
<rect x="734" y="436" width="4" height="3" fill="#000"/>
<rect x="136" y="445" width="8" height="3" fill="#000"/>
<rect x="730" y="445" width="8" height="3" fill="#000"/>
<rect x="136" y="454" width="4" height="3" fill="#000"/>
<rect x="734" y="454" width="4" height="3" fill="#000"/>
<rect x="136" y="463" width="4" height="3" fill="#000"/>
<rect x="734" y="463" width="4" height="3" fill="#000"/>
<rect x="136" y="472" width="4" height="3" fill="#000"/>
<rect x="734" y="472" width="4" height="3" fill="#000"/>
<rect x="136" y="481" width="4" height="3" fill="#000"/>
<rect x="734" y="481" width="4" height="3" fill="#000"/>
<rect x="136" y="490" width="8" height="3" fill="#000"/>
<rect x="730" y="490" width="8" height="3" fill="#000"/>
<rect x="136" y="499" width="4" height="3" fill="#000"/>
<rect x="734" y="499" width="4" height="3" fill="#000"/>
<rect x="136" y="508" width="4" height="3" fill="#000"/>
<rect x="734" y="508" width="4" height="3" fill="#000"/>
</g>
<g style="opacity:0.999" stroke="#000" stroke-width="0.35">
<g transform="translate(291.48,24) scale(1.010,1.04)"><text font-size="20">Hardness</text></g>
<g transform="translate(382.60,24) scale(1.003,1.04)"><text font-size="20">ratio</text></g>
<g transform="translate(428.70,24) scale(1.000,1.04)"><text font-size="20">of</text></g>
<g transform="translate(450.97,24) scale(1.032,1.04)"><text font-size="20">GRB</text></g>
<g transform="translate(500.49,24) scale(1.004,1.04)"><text font-size="20">130701A</text><rect x="0.60" y="-2.40" width="4.22" height="3.50" fill="#fff" stroke="none"/><rect x="7.00" y="-2.40" width="3.95" height="3.50" fill="#fff" stroke="none"/><rect x="56.22" y="-2.40" width="4.22" height="3.50" fill="#fff" stroke="none"/><rect x="62.62" y="-2.40" width="3.95" height="3.50" fill="#fff" stroke="none"/></g>
<g transform="translate(134.67,48.2) scale(1.027,1.02)"><text font-size="20">cyan:</text></g>
<g transform="translate(190.00,48.2) scale(0.968,1.02)"><text font-size="20">WT</text></g>
<g transform="translate(225.67,48.2) scale(1.028,1.02)"><text font-size="20">settling</text></g>
<g transform="translate(312.78,48.2) scale(1.024,1.02)"><text font-size="20">blue:</text></g>
<g transform="translate(363.90,48.2) scale(0.977,1.02)"><text font-size="20">WT</text></g>
<g transform="translate(416.87,48.2) scale(1.031,1.02)"><text font-size="20">red:</text></g>
<g transform="translate(458.38,48.2) scale(1.008,1.02)"><text font-size="20">PC</text></g>
<g transform="translate(319.80,561.8) scale(1.040,1.0)"><text font-size="20">Time</text></g>
<g transform="translate(370.88,561.8) scale(1.018,1.0)"><text font-size="20">since</text></g>
<g transform="translate(423.36,561.8) scale(1.071,1.0)"><text font-size="20">BAT</text></g>
<g transform="translate(469.00,561.8) scale(1.011,1.0)"><text font-size="20">trigger</text></g>
<g transform="translate(532.51,561.8) scale(0.986,1.0)"><text font-size="20">(s)</text></g>
<g transform="translate(88.63,63.2) scale(1,1.06)"><text font-size="20">100</text><rect x="0.60" y="-2.40" width="4.22" height="3.50" fill="#fff" stroke="none"/><rect x="7.00" y="-2.40" width="3.95" height="3.50" fill="#fff" stroke="none"/></g>
<g transform="translate(99.75,98) scale(1,1.06)"><text font-size="20">10</text><rect x="0.60" y="-2.40" width="4.22" height="3.50" fill="#fff" stroke="none"/><rect x="7.00" y="-2.40" width="3.95" height="3.50" fill="#fff" stroke="none"/></g>
<g transform="translate(110.88,133.7) scale(1,1.06)"><text font-size="20">1</text><rect x="0.60" y="-2.40" width="4.22" height="3.50" fill="#fff" stroke="none"/><rect x="7.00" y="-2.40" width="3.95" height="3.50" fill="#fff" stroke="none"/></g>
<g transform="translate(94.20,169) scale(1,1.06)"><text font-size="20">0.1</text><rect x="17.28" y="-2.40" width="4.22" height="3.50" fill="#fff" stroke="none"/><rect x="23.68" y="-2.40" width="3.95" height="3.50" fill="#fff" stroke="none"/></g>
<g transform="translate(83.07,204) scale(1,1.06)"><text font-size="20">0.01</text><rect x="28.40" y="-2.40" width="4.22" height="3.50" fill="#fff" stroke="none"/><rect x="34.80" y="-2.40" width="3.95" height="3.50" fill="#fff" stroke="none"/></g>
<g transform="translate(88.63,214) scale(1,1.06)"><text font-size="20">100</text><rect x="0.60" y="-2.40" width="4.22" height="3.50" fill="#fff" stroke="none"/><rect x="7.00" y="-2.40" width="3.95" height="3.50" fill="#fff" stroke="none"/></g>
<g transform="translate(99.75,251) scale(1,1.06)"><text font-size="20">10</text><rect x="0.60" y="-2.40" width="4.22" height="3.50" fill="#fff" stroke="none"/><rect x="7.00" y="-2.40" width="3.95" height="3.50" fill="#fff" stroke="none"/></g>
<g transform="translate(110.88,287) scale(1,1.06)"><text font-size="20">1</text><rect x="0.60" y="-2.40" width="4.22" height="3.50" fill="#fff" stroke="none"/><rect x="7.00" y="-2.40" width="3.95" height="3.50" fill="#fff" stroke="none"/></g>
<g transform="translate(94.20,323) scale(1,1.06)"><text font-size="20">0.1</text><rect x="17.28" y="-2.40" width="4.22" height="3.50" fill="#fff" stroke="none"/><rect x="23.68" y="-2.40" width="3.95" height="3.50" fill="#fff" stroke="none"/></g>
<g transform="translate(83.07,360) scale(1,1.06)"><text font-size="20">0.01</text><rect x="28.40" y="-2.40" width="4.22" height="3.50" fill="#fff" stroke="none"/><rect x="34.80" y="-2.40" width="3.95" height="3.50" fill="#fff" stroke="none"/></g>
<g transform="translate(94.20,408) scale(1,1.06)"><text font-size="20">1.5</text><rect x="0.60" y="-2.40" width="4.22" height="3.50" fill="#fff" stroke="none"/><rect x="7.00" y="-2.40" width="3.95" height="3.50" fill="#fff" stroke="none"/></g>
<g transform="translate(110.88,452) scale(1,1.06)"><text font-size="20">1</text><rect x="0.60" y="-2.40" width="4.22" height="3.50" fill="#fff" stroke="none"/><rect x="7.00" y="-2.40" width="3.95" height="3.50" fill="#fff" stroke="none"/></g>
<g transform="translate(94.20,496.5) scale(1,1.06)"><text font-size="20">0.5</text></g>
<g transform="translate(194.62,538) scale(1,1.06)"><text font-size="20">100</text><rect x="0.60" y="-2.40" width="4.22" height="3.50" fill="#fff" stroke="none"/><rect x="7.00" y="-2.40" width="3.95" height="3.50" fill="#fff" stroke="none"/></g>
<g transform="translate(366.55,538) scale(1,1.06)"><text font-size="20">1000</text><rect x="0.60" y="-2.40" width="4.22" height="3.50" fill="#fff" stroke="none"/><rect x="7.00" y="-2.40" width="3.95" height="3.50" fill="#fff" stroke="none"/></g>
<g transform="translate(551.40,538) scale(1.000,1.06)"><text font-size="20">10</text><rect x="0.60" y="-2.40" width="4.22" height="3.50" fill="#fff" stroke="none"/><rect x="7.00" y="-2.40" width="3.95" height="3.50" fill="#fff" stroke="none"/></g>
<text transform="translate(574,532.3) scale(1,1.06)" font-size="12.5">4</text>
<g transform="translate(49.2,207.72) rotate(-90) scale(1.009,1.06)"><text font-size="20">1.51–10</text><rect x="0.60" y="-2.40" width="4.22" height="3.50" fill="#fff" stroke="none"/><rect x="7.00" y="-2.40" width="3.95" height="3.50" fill="#fff" stroke="none"/><rect x="28.40" y="-2.40" width="4.22" height="3.50" fill="#fff" stroke="none"/><rect x="34.80" y="-2.40" width="3.95" height="3.50" fill="#fff" stroke="none"/><rect x="50.65" y="-2.40" width="4.22" height="3.50" fill="#fff" stroke="none"/><rect x="57.05" y="-2.40" width="3.95" height="3.50" fill="#fff" stroke="none"/></g>
<g transform="translate(49.2,128.79) rotate(-90) scale(0.994,1.06)"><text font-size="20">keV</text></g>
<g transform="translate(49.2,87.02) rotate(-90) scale(0.925,1.06)"><text font-size="20">c/s</text></g>
<g transform="translate(49.2,358.74) rotate(-90) scale(1.043,1.06)"><text font-size="20">0.3–1.5</text><rect x="39.53" y="-2.40" width="4.22" height="3.50" fill="#fff" stroke="none"/><rect x="45.93" y="-2.40" width="3.95" height="3.50" fill="#fff" stroke="none"/></g>
<g transform="translate(49.2,284.79) rotate(-90) scale(0.994,1.06)"><text font-size="20">keV</text></g>
<g transform="translate(49.2,244.14) rotate(-90) scale(0.942,1.06)"><text font-size="20">c/s</text></g>
<g transform="translate(49.2,463.80) rotate(-90) scale(1.002,1.06)"><text font-size="20">Ratio</text></g>
<rect x="297.4" y="43.0" width="9.3" height="1.0"/><rect x="401.6" y="43.0" width="9.3" height="1.0"/>
</g>
</svg>
</body></html>
